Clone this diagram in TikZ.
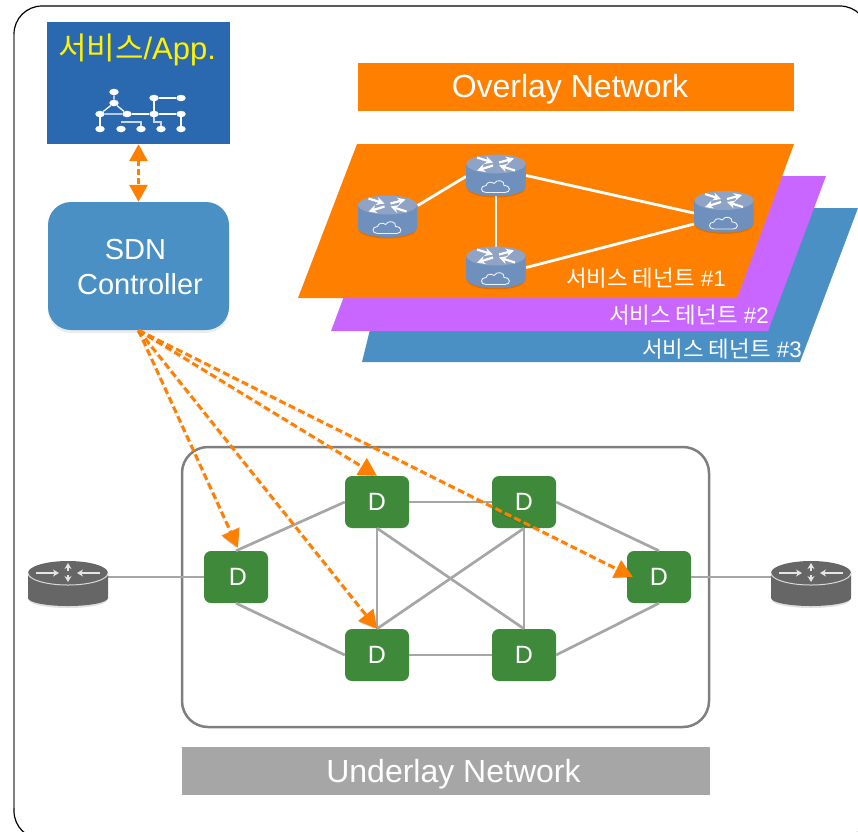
\documentclass[tikz,border=0pt]{standalone}
\usepackage{xcolor}
\usepackage{fontspec}
\setmainfont{Liberation Sans}
\newfontfamily\krfont{Noto Sans CJK KR}
\usetikzlibrary{arrows.meta,shapes.geometric,shadows}
\definecolor{ovorange}{HTML}{FF8000}
\definecolor{ovpurple}{HTML}{C966FF}
\definecolor{ovblue}{HTML}{4A90C4}
\definecolor{appblue}{HTML}{2A69B0}
\definecolor{dgreen}{HTML}{3F8A3A}
\definecolor{lnkgray}{HTML}{A6A6A6}
\definecolor{boxgray}{HTML}{7F7F7F}
\definecolor{gwgray}{HTML}{666666}
\definecolor{rttop}{HTML}{8EA3C6}
\definecolor{rtside}{HTML}{6F8FBC}
\definecolor{rtmid}{HTML}{5F7294}
\newcommand{\sz}[1]{\fontsize{#1}{#1}\selectfont}
\tikzset{
	dnode/.style={fill=dgreen,rounded corners=7pt,minimum width=64pt,minimum height=52pt,inner sep=0pt,text=white,font=\sz{25}},
	lnk/.style={draw=lnkgray,line width=2.7pt},
	wlnk/.style={draw=white,line width=2.8pt},
	ctl/.style={draw=ovorange,line width=3pt,dash pattern=on 7pt off 3.5pt,-{Triangle[length=18pt,width=19pt]},
		preaction={draw=black,opacity=.14,transform canvas={xshift=-1pt,yshift=-2pt}}},
	label/.style={inner sep=0pt,text=white,font=\sz{32}},
	tenant/.style={inner sep=0pt,anchor=east,text=white,font=\sz{22.4}},
	routerbox/.style={minimum width=60pt,minimum height=41pt,inner sep=0pt},
	gwbox/.style={minimum width=80pt,minimum height=44pt,inner sep=0pt},
	appdot/.style={ellipse,fill=white,minimum width=9.5pt,minimum height=6.5pt,inner sep=0pt},
	applnk/.style={draw=white,line width=1.3pt},
	cloudrouter/.pic={
		\fill[black,opacity=.12] (0,13) ellipse [x radius=29,y radius=9];
		\shade[left color=rtside,middle color=rtmid,right color=rtside]
			(-29.5,-11.5) -- (-29.5,11.5) arc [start angle=180,end angle=0,x radius=29.5,y radius=9] -- (29.5,-11.5) -- cycle;
		\fill[rttop] (0,-11.5) ellipse [x radius=29.5,y radius=9.5];
		\draw[white,line width=2.2pt,-{Stealth[length=8pt,width=8pt]}] (3,-13) -- (18,-17);
		\draw[white,line width=2.2pt,-{Stealth[length=8pt,width=8pt]}] (-19,-18) -- (-3,-13);
		\draw[white,line width=2.2pt,-{Stealth[length=8pt,width=8pt]}] (-3,-10) -- (-19,-5);
		\draw[white,line width=2.2pt,-{Stealth[length=8pt,width=8pt]}] (19,-5) -- (3,-10);
		\draw[white!85!rttop,line width=.9pt] (-10,17) .. controls (-16,17) and (-16,10) .. (-10,10) .. controls (-9,6) and (-4,6) .. (-2,8) .. controls (1,3) and (9,5) .. (8,10) .. controls (15,10) and (15,17) .. (9,17) -- cycle;
	},
	gwrouter/.pic={
		\fill[black,opacity=.12] (0,16) ellipse [x radius=39,y radius=8];
		\fill[gwgray] (-40,-11) -- (-40,14) arc [start angle=180,end angle=0,x radius=40,y radius=8] -- (40,-11) -- cycle;
		\fill[gwgray] (0,-11) ellipse [x radius=40,y radius=12];
		\draw[white!85!black,line width=1pt] (-40,-11) arc [start angle=180,end angle=0,x radius=40,y radius=12];
		\draw[white!90!black,line width=1.2pt,-{Stealth[length=6pt,width=7pt]}] (0,-13) -- (0,-21);
		\draw[white!90!black,line width=1.2pt,-{Stealth[length=6pt,width=7pt]}] (0,-9) -- (0,-2);
		\draw[white!90!black,line width=1.2pt,-{Stealth[length=6pt,width=7pt]}] (-32,-11) -- (-9,-11);
		\draw[white!90!black,line width=1.2pt,-{Stealth[length=6pt,width=7pt]}] (32,-11) -- (9,-11);
	},
}

\begin{document}
\begin{tikzpicture}[x=1pt,y=-1pt]
	\useasboundingbox (0,0) rectangle (858,831);
	\clip (0,0) rectangle (858,831);
	\draw[black,line width=1.2pt,rounded corners=28pt] (14,6) rectangle (868,839);
	\draw[boxgray,line width=2pt] (14,34) -- (14,808);

	% overlay
	\node at (576,87) (ovtitle) [fill=ovorange,minimum width=436pt,minimum height=48pt] {};
	\node at (570,89) (ovtxt) [label] {Overlay Network};
	\fill[ovblue] (400,208) -- (858,208) -- (800,362) -- (362,362) -- cycle;
	\fill[ovpurple] (389,176) -- (826,176) -- (768,331) -- (331,331) -- cycle;
	\fill[ovorange] (357,144) -- (794,144) -- (737,298) -- (298,298) -- cycle;
	\node at (387.5,216.5) (r1) [routerbox] {};
	\node at (496,175.5) (r2) [routerbox] {};
	\node at (496,267.5) (r3) [routerbox] {};
	\node at (724,212) (r4) [routerbox] {};
	\draw [wlnk] ([yshift=11pt]r1.east) -- ([yshift=-1pt]r2.west);
	\draw [wlnk] (r2.south) -- (r3.north);
	\draw [wlnk] (r2.east) -- ([yshift=-1pt]r4.west);
	\draw [wlnk] (r3.east) -- ([yshift=-12pt]r4.west);
	\foreach \n in {r1,r2,r3,r4}
		\pic at (\n) {cloudrouter};
	\node at (726,278) (t1) [tenant] {{\krfont 서비스 테넌트} \#1};
	\node at (769,315) (t2) [tenant] {{\krfont 서비스 테넌트} \#2};
	\node at (802,349) (t3) [tenant] {{\krfont 서비스 테넌트} \#3};

	% app and controller
	\node at (138.5,83) (app) [fill=appblue,minimum width=183pt,minimum height=122pt] {};
	\node at (137,50) (apptxt) [inner sep=0pt,text=yellow,font=\sz{31}] {{\krfont 서비스}/App.};
	\foreach \n/\x/\y in {a/114/92,b/114/103,c/100/114,d/127/114,e/154/98,f/181/98,g/154/114,h/181/114,i/100/129,j/121/129,k/141/129,l/161/129,m/181/129}
		\node at (\x,\y) (\n) [appdot] {};
	\draw [applnk] (a) -- (b) -- (c) -- (d) -- (b);
	\draw [applnk] (d) -- (g) -- (h) -- (m);
	\draw [applnk] (c) -- (i);
	\draw [applnk] (e) -- (f);
	\draw [applnk] (e) -- (g);
	\draw [applnk,white!75!appblue] (g) -- ++(0,8) -| (l);
	\draw [applnk,white!75!appblue] (j) ++(0,-7) -- ++(20,0) -- (k);
	\node at (138.5,266) (sdn) [fill=ovblue,rounded corners=23pt,minimum width=181pt,minimum height=128pt,drop shadow={opacity=.15,shadow xshift=0pt,shadow yshift=-3pt}] {};
	\node at (140,267) (sdntxt) [inner sep=0pt,align=center,text=white,font=\sz{29}] {SDN\hspace*{9pt}\\[6pt]Controller};
	\draw [draw=ovorange,line width=3pt,dash pattern=on 6pt off 3pt,{Triangle[length=17pt,width=18pt]}-{Triangle[length=17pt,width=18pt]}] (app.south) -- (sdn.north);

	% underlay
	\draw[boxgray,line width=2.5pt,rounded corners=26pt] (182,447) rectangle (709,727);
	\node at (446,771) (untitle) [fill=lnkgray,minimum width=528pt,minimum height=48pt] {};
	\node at (453.5,774) (untxt) [label] {Underlay Network};
	\node at (236,577) (d1) [dnode] {\hspace*{4pt}D};
	\node at (377,502) (d2) [dnode] {D};
	\node at (377,655) (d3) [dnode] {D};
	\node at (524,502) (d4) [dnode] {D};
	\node at (524,655) (d5) [dnode] {D};
	\node at (659,577) (d6) [dnode] {D};
	\node at (68,584) (gwl) [gwbox] {};
	\node at (811,584) (gwr) [gwbox] {};
	\draw [lnk] (gwl.east |- d1.west) -- (d1.west);
	\draw [lnk] (d6.east) -- (gwr.west |- d6.east);
	\draw [lnk] (d1.north) -- (d2.west);
	\draw [lnk] (d1.south) -- (d3.west);
	\draw [lnk] (d2.east) -- (d4.west);
	\draw [lnk] (d3.east) -- (d5.west);
	\draw [lnk] (d4.east) -- (d6.north);
	\draw [lnk] (d5.east) -- (d6.south);
	\draw [lnk] (d2.south) -- (d3.north);
	\draw [lnk] (d4.south) -- (d5.north);
	\draw [lnk] (d2.south) -- (d5.north);
	\draw [lnk] (d4.south) -- (d3.north);
	\pic at (gwl) {gwrouter};
	\pic at (gwr) {gwrouter};

	% control
	\draw [ctl] (sdn.south) -- ([xshift=2pt,yshift=3pt]d1.north);
	\draw [ctl] (sdn.south) -- (d2.north);
	\draw [ctl] (sdn.south) -- (d3.north);
	\draw [ctl] (sdn.south) -- ([xshift=6pt]d6.west);
\end{tikzpicture}
\end{document}
